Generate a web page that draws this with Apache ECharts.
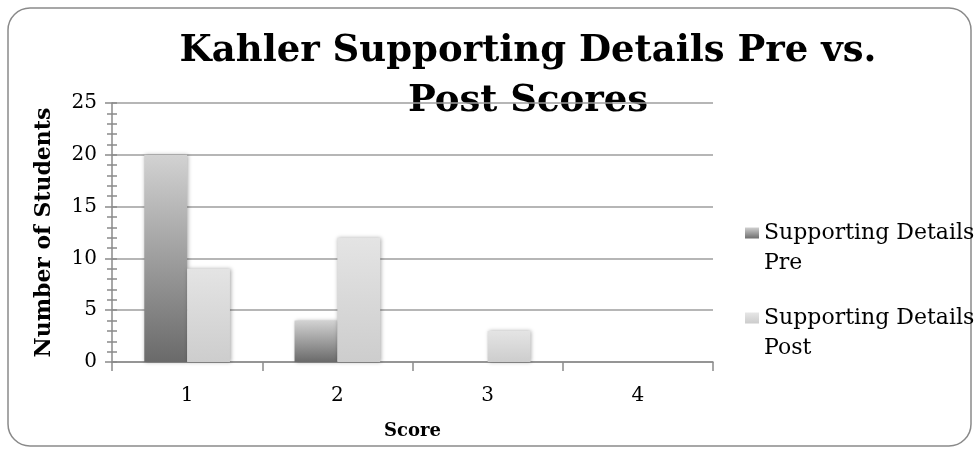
<!DOCTYPE html>
<html><head><meta charset="utf-8">
<script src="https://cdn.jsdelivr.net/npm/echarts@6/dist/echarts.min.js"></script>
<style>html,body{margin:0;padding:0;background:#fff}#c{width:980px;height:454px}</style>
</head><body><div id="c"></div>
<script>
const categories = ['1', '2', '3', '4'];
const preValues = [20, 4, 0, 0];
const postValues = [9, 12, 3, 0];
const seriesNames = ['Supporting Details Pre', 'Supporting Details Post'];
const titleText = 'Kahler Supporting Details Pre vs.\nPost Scores';
const yName = 'Number of Students';
const xName = 'Score';

const serif = 'DejaVu Serif';
const chart = echarts.init(document.getElementById('c'));
const grad = (a, b, y0, y1) => new echarts.graphic.LinearGradient(0, y0, 0, y1, [
  {offset: 0, color: a}, {offset: 1, color: b}]);
const preGrad = grad('#d2d2d2', '#6a6a6a', 0, 1);
const postGrad = grad('#e4e4e4', '#cdcdcd', 0, 1);
// legend icon: square aligned with first text line inside a 60px tall box
const iconPath = 'path://M0,0L0.01,0M0,9.5L14,9.5L14,20.5L0,20.5ZM0,60L0.01,60';
const axisGrey = '#8a8a8a';
const yCommon = {type: 'value', min: 0, max: 25, interval: 5, position: 'left'};
chart.setOption({
  animation: false,
  graphic: [{type: 'rect', shape: {x: 8, y: 8, width: 963, height: 438, r: 22},
    style: {fill: 'none', stroke: '#8a8a8a', lineWidth: 1.5}, z: -1}],
  title: {text: titleText, left: 523, top: 21, textAlign: 'center', z: -1,
    textStyle: {fontFamily: serif, fontWeight: 'bold', fontSize: 37, color: '#000', lineHeight: 50}},
  legend: {orient: 'vertical', left: 740, top: 213, itemWidth: 14, itemHeight: 60, itemGap: 25,
    icon: iconPath,
    data: [
      {name: seriesNames[0], itemStyle: {color: grad('#cfcfcf', '#6e6e6e', 0.16, 0.34)}},
      {name: seriesNames[1], itemStyle: {color: grad('#e6e6e6', '#cccccc', 0.16, 0.34)}}
    ],
    formatter: n => n.replace(' Pre', '\nPre').replace(' Post', '\nPost'),
    textStyle: {fontFamily: serif, fontSize: 22, color: '#000', lineHeight: 30}},
  grid: {left: 112, right: 267, top: 103, bottom: 92},
  xAxis: {type: 'category', data: categories, name: xName, nameLocation: 'middle', nameGap: 60,
    nameTextStyle: {fontFamily: serif, fontWeight: 'bold', fontSize: 18, color: '#000'},
    axisLine: {lineStyle: {color: axisGrey, width: 1.5}},
    axisTick: {show: true, length: 9, lineStyle: {color: axisGrey, width: 1.5}},
    axisLabel: {fontFamily: serif, fontSize: 20, color: '#000', margin: 24}},
  yAxis: [
    Object.assign({}, yCommon, {name: yName, nameLocation: 'middle', nameGap: 57,
      nameTextStyle: {fontFamily: serif, fontWeight: 'bold', fontSize: 22, color: '#000'},
      axisLine: {show: true, lineStyle: {color: axisGrey, width: 1.5}},
      axisTick: {show: true, length: 7, lineStyle: {color: axisGrey, width: 1.5}},
      minorTick: {show: true, splitNumber: 5, length: 5, lineStyle: {color: axisGrey, width: 1.5}},
      splitLine: {lineStyle: {color: '#9e9e9e', width: 1.5}},
      axisLabel: {fontFamily: serif, fontSize: 20, color: '#000', margin: 15}}),
    Object.assign({}, yCommon, {
      axisLine: {show: false},
      axisTick: {show: true, inside: true, length: 5, lineStyle: {color: axisGrey, width: 1.5}},
      minorTick: {show: true, splitNumber: 5, length: 5, lineStyle: {color: axisGrey, width: 1.5}},
      splitLine: {show: false}, axisLabel: {show: false}})
  ],
  series: [
    {name: seriesNames[0], type: 'bar', data: preValues, barGap: '0%', barCategoryGap: '43%',
     itemStyle: {color: preGrad, shadowBlur: 4, shadowColor: 'rgba(0,0,0,0.35)', shadowOffsetX: 1}},
    {name: seriesNames[1], type: 'bar', data: postValues, barGap: '0%', barCategoryGap: '43%',
     itemStyle: {color: postGrad, shadowBlur: 4, shadowColor: 'rgba(0,0,0,0.35)', shadowOffsetX: 1}}
  ]
});
</script></body></html>
